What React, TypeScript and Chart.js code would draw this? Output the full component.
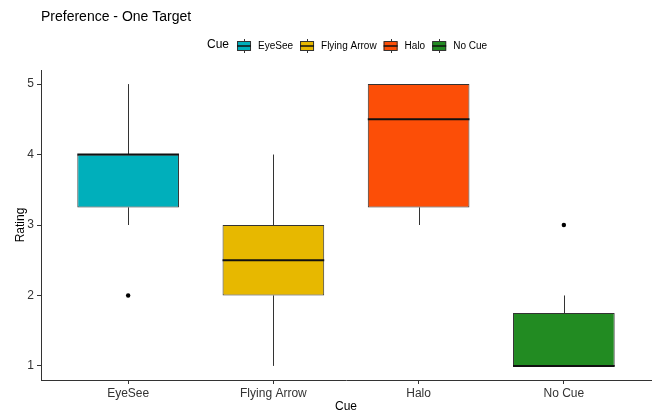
import React, { useEffect, useRef } from "react";
import { Chart, registerables } from "chart.js";

Chart.register(...registerables);

// Box plot summary per cue (ratings on a 1–5 scale)
const CUES = ["EyeSee", "Flying Arrow", "Halo", "No Cue"];
const LOWER_WHISKER = [3, 1, 3, 1];
const Q1 = [3.25, 2, 3.25, 1];
const MEDIAN = [4, 2.5, 4.5, 1];
const Q3 = [4, 3, 5, 1.75];
const UPPER_WHISKER = [5, 4, 5, 2];

// Points beyond the whiskers
const OUTLIER_CUES = ["EyeSee", "No Cue"];
const OUTLIER_RATINGS = [2, 3];

const FILLS = ["#00AFBB", "#E7B800", "#FC4E07", "#228B22"];
const Y_TICKS = [1, 2, 3, 4, 5];

const TITLE = "Preference - One Target";
const LEGEND_TITLE = "Cue";
const X_TITLE = "Cue";
const Y_TITLE = "Rating";

const FONT = "'Liberation Sans', Arial, sans-serif";
const LINE = "#333333";

// Whiskers and median lines, drawn through the chart scales
const boxParts = {
  id: "boxParts",
  afterDatasetsDraw(chart: any) {
    const { ctx, scales } = chart;
    const x = scales.x;
    const y = scales.y;
    const meta = chart.getDatasetMeta(0);
    ctx.save();
    CUES.forEach((_, i) => {
      const bar = meta.data[i] as any;
      const cx = Math.round(x.getPixelForValue(i)) + 0.5;
      const half = bar.width / 2;
      ctx.strokeStyle = LINE;
      ctx.lineWidth = 1;
      ctx.beginPath();
      ctx.moveTo(cx, y.getPixelForValue(Q3[i]));
      ctx.lineTo(cx, y.getPixelForValue(UPPER_WHISKER[i]));
      ctx.moveTo(cx, y.getPixelForValue(Q1[i]));
      ctx.lineTo(cx, y.getPixelForValue(LOWER_WHISKER[i]));
      ctx.stroke();

      const ym = y.getPixelForValue(MEDIAN[i]);
      ctx.strokeStyle = "#111111";
      ctx.lineWidth = 2;
      ctx.beginPath();
      ctx.moveTo(bar.x - half, ym);
      ctx.lineTo(bar.x + half, ym);
      ctx.stroke();
    });
    ctx.restore();
  },
};

// Plot title and the horizontal legend with box-shaped keys
const titleAndLegend = {
  id: "titleAndLegend",
  afterDraw(chart: any) {
    const { ctx, chartArea } = chart;
    ctx.save();
    ctx.fillStyle = "#000000";
    ctx.textBaseline = "alphabetic";
    ctx.textAlign = "left";
    ctx.font = `14px ${FONT}`;
    ctx.fillText(TITLE, chartArea.left, 21);

    const cy = 46;
    let xPos = 207;
    ctx.textBaseline = "middle";
    ctx.font = `12px ${FONT}`;
    ctx.fillText(LEGEND_TITLE, xPos, cy - 1);
    xPos += ctx.measureText(LEGEND_TITLE).width + 8;

    ctx.font = `10px ${FONT}`;
    CUES.forEach((cue, i) => {
      const kx = xPos;
      const kw = 14;
      const mid = Math.round(kx + kw / 2) + 0.5;
      // whisker stubs
      ctx.strokeStyle = LINE;
      ctx.lineWidth = 1;
      ctx.beginPath();
      ctx.moveTo(mid, cy - 7);
      ctx.lineTo(mid, cy + 7);
      ctx.stroke();
      // box
      ctx.fillStyle = FILLS[i];
      ctx.fillRect(kx, cy - 4.5, kw, 9);
      ctx.strokeStyle = LINE;
      ctx.strokeRect(kx + 0.5, cy - 4.5, kw - 1, 9);
      // median
      ctx.strokeStyle = "#111111";
      ctx.lineWidth = 1.5;
      ctx.beginPath();
      ctx.moveTo(kx, cy);
      ctx.lineTo(kx + kw, cy);
      ctx.stroke();

      ctx.fillStyle = "#000000";
      const lx = kx + kw + 7;
      ctx.fillText(cue, lx, cy);
      xPos = lx + ctx.measureText(cue).width + 7;
    });
    ctx.restore();
  },
};

export default function App() {
  const canvasRef = useRef<HTMLCanvasElement | null>(null);

  useEffect(() => {
    const canvas = canvasRef.current;
    if (!canvas) return;

    const boxData = CUES.map((_, i) => ({ x: i, y: [Q1[i], Q3[i]] }));
    const outlierData = OUTLIER_CUES.map((cue, k) => ({
      x: CUES.indexOf(cue),
      y: OUTLIER_RATINGS[k],
    }));

    const chart = new Chart(canvas, {
      type: "bar",
      data: {
        datasets: [
          {
            type: "bar",
            label: "Cue",
            data: boxData as any,
            backgroundColor: FILLS,
            borderColor: LINE,
            borderWidth: 1,
            borderSkipped: false,
            barPercentage: 0.7,
            categoryPercentage: 1,
            order: 2,
          },
          {
            type: "scatter",
            label: "Outliers",
            data: outlierData,
            backgroundColor: "#000000",
            borderWidth: 0,
            pointRadius: 2.2,
            order: 1,
          } as any,
        ],
      },
      options: {
        animation: false,
        responsive: false,
        devicePixelRatio: 1,
        layout: { padding: { top: 70, right: 7, left: 0, bottom: 0 } },
        plugins: {
          legend: { display: false },
          tooltip: { enabled: false },
          title: { display: false },
        },
        scales: {
          x: {
            type: "linear",
            min: -0.6,
            max: 3.6,
            offset: false,
            afterBuildTicks: (s: any) => {
              s.ticks = CUES.map((_, i) => ({ value: i }));
            },
            afterFit: (s: any) => {
              s.height = 33;
            },
            ticks: {
              callback: (v: any) => CUES[Math.round(Number(v))] ?? "",
              font: { size: 12, family: FONT },
              color: "#333333",
              padding: 2,
              maxRotation: 0,
              autoSkip: false,
            },
            grid: {
              display: true,
              offset: false,
              drawOnChartArea: false,
              drawTicks: true,
              tickLength: 4,
              tickColor: LINE,
              tickWidth: 1,
            },
            border: { display: true, color: LINE, width: 1 },
            title: {
              display: true,
              text: X_TITLE,
              color: "#000000",
              font: { size: 12, family: FONT, lineHeight: 1 },
              padding: { top: 0, bottom: 0 },
            },
          },
          y: {
            type: "linear",
            min: 0.8,
            max: 5.2,
            afterBuildTicks: (s: any) => {
              s.ticks = Y_TICKS.map((v) => ({ value: v }));
            },
            afterFit: (s: any) => {
              s.width = 41;
            },
            ticks: {
              font: { size: 12, family: FONT },
              color: "#333333",
              padding: 3,
            },
            grid: {
              display: true,
              drawOnChartArea: false,
              drawTicks: true,
              tickLength: 4,
              tickColor: LINE,
              tickWidth: 1,
            },
            border: { display: true, color: LINE, width: 1 },
            title: {
              display: true,
              text: Y_TITLE,
              color: "#000000",
              font: { size: 12, family: FONT, lineHeight: 1 },
              padding: { top: 15, bottom: 0 },
            },
          },
        },
      } as any,
      plugins: [boxParts, titleAndLegend],
    });

    return () => chart.destroy();
  }, []);

  return (
    <div style={{ position: "fixed", left: 0, top: 0, width: 658, height: 413, background: "#ffffff" }}>
      <canvas ref={canvasRef} width={658} height={413} />
    </div>
  );
}
